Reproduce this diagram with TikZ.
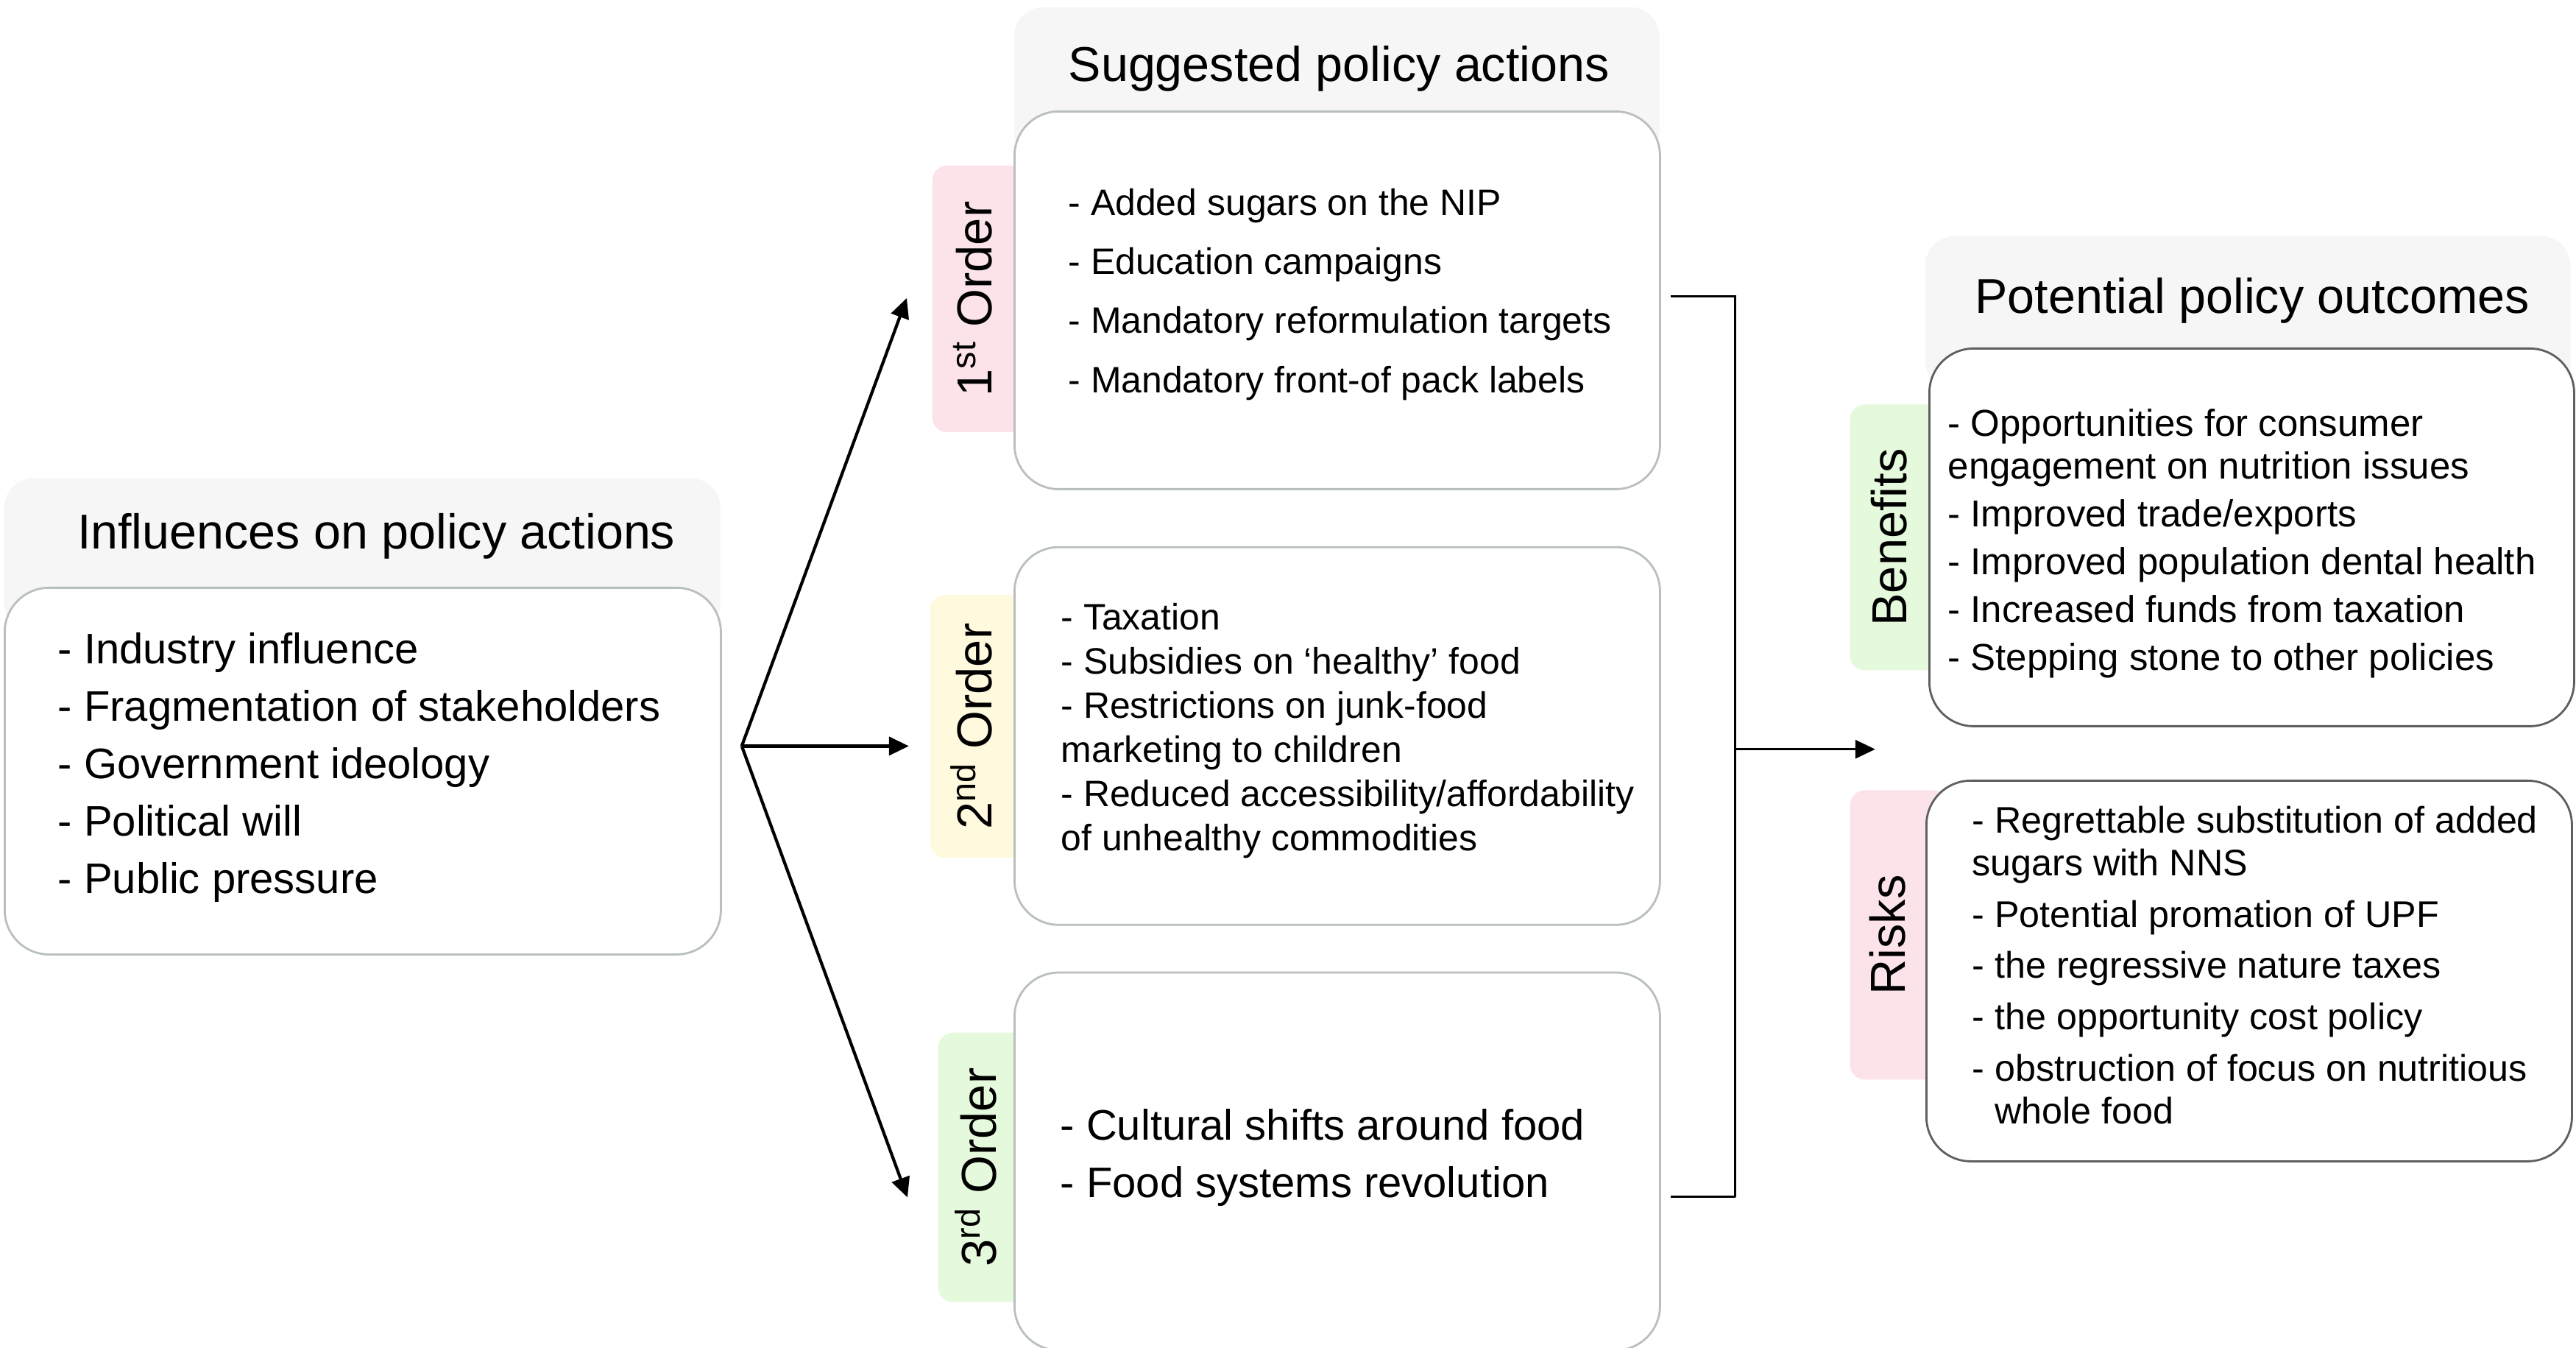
\documentclass[tikz,border=0pt]{standalone}
\usepackage{fontspec}
\setmainfont{Liberation Sans}
\usepackage{tikz}
\usetikzlibrary{positioning,calc,arrows.meta,backgrounds}
\definecolor{HeadGray}{RGB}{246,246,246}
\definecolor{BoxGray}{RGB}{185,191,191}
\definecolor{DarkBoxGray}{RGB}{95,95,95}
\definecolor{TagPink}{RGB}{252,227,233}
\definecolor{TagYellow}{RGB}{255,249,222}
\definecolor{TagGreen}{RGB}{229,249,220}
\tikzset{%
  header/.style={%
    fill=HeadGray, rounded corners=0.4cm, minimum width=8.77cm,
    minimum height=2.1cm, anchor=north west
  },
  headtitle/.style={font=\fontsize{18.9}{22}\selectfont, inner sep=0pt},
  panel/.style={%
    draw=BoxGray, line width=0.8pt, fill=white, rounded corners=0.6cm,
    minimum width=8.77cm, minimum height=5.13cm, anchor=north west
  },
  tagbox/.style={rounded corners=0.2cm, anchor=west, minimum height=3.62cm},
  tagtext/.style={rotate=90, font=\fontsize{19}{22}\selectfont, inner sep=0pt},
  items/.style={anchor=west, align=left, inner sep=0pt},
  arrow/.style={line width=1.2pt, -{Triangle[length=0.27cm,width=0.25cm]}},
  bracket/.style={line width=0.9pt},
}

\begin{document}
\begin{tikzpicture}
    \useasboundingbox (0,0) rectangle (35,-18.31);

        \node (InfluencesHead)[header, minimum width=9.73cm] at (0.05,-6.49) {};
        \node (InfluencesTitle)[headtitle] at ($(InfluencesHead.north)+(0.19,-0.79)$) {Influences on policy actions};
        \node (Influences)[panel, minimum width=9.73cm, minimum height=4.98cm] at (0.05,-7.97) {};
        \node (InfluencesList)[items, font=\fontsize{16.5}{22.2}\selectfont] at ($(Influences.west)+(0.73,0.05)$) {%
            - Industry influence\\
            - Fragmentation of stakeholders\\
            - Government ideology\\
            - Political will\\
            - Public pressure};

        \node (ActionsHead)[header] at (13.77,-0.09) {};
        \node (ActionsTitle)[headtitle] at ($(ActionsHead.north)+(0.03,-0.84)$) {Suggested policy actions};
        \node (Action1)[panel] at (13.77,-1.50) {};
        \node (Action2)[panel, below=0.76cm of Action1] {};
        \node (Action3)[panel, below=0.62cm of Action2] {};

        \node (Action1List)[items, font=\fontsize{14.2}{22.8}\selectfont] at ($(Action1.west)+(0.74,0.08)$) {%
            - Added sugars on the NIP\\
            - Education campaigns\\
            - Mandatory reformulation targets\\
            - Mandatory front-of pack labels};
        \node (Action2List)[items, font=\fontsize{14.2}{17.1}\selectfont] at ($(Action2.west)+(0.64,0.07)$) {%
            - Taxation\\
            - Subsidies on ‘healthy’ food\\
            - Restrictions on junk-food\\
            marketing to children\\
            - Reduced accessibility/affordability\\
            of unhealthy commodities};
        \node (Action3List)[items, font=\fontsize{16.5}{22.2}\selectfont] at ($(Action3.west)+(0.63,0.05)$) {%
            - Cultural shifts around food\\
            - Food systems revolution};

        \node (OutcomesHead)[header] at (26.15,-3.20) {};
        \node (OutcomesTitle)[headtitle] at ($(OutcomesHead.north)+(0.06,-0.88)$) {Potential policy outcomes};
        \node (Benefits)[panel, draw=DarkBoxGray, minimum width=8.76cm] at (26.20,-4.72) {};
        \node (Risks)[panel, draw=DarkBoxGray, minimum height=5.17cm] at (26.16,-10.59) {};

        \node (BenefitsList)[items, font=\fontsize{14.5}{16.5}\selectfont] at ($(Benefits.west)+(0.26,-0.08)$) {%
            - Opportunities for consumer\\
            engagement on nutrition issues\\[2pt]
            - Improved trade/exports\\[2pt]
            - Improved population dental health\\[2pt]
            - Increased funds from taxation\\[2pt]
            - Stepping stone to other policies};
        \node (RisksList)[items, font=\fontsize{14.3}{16.6}\selectfont] at ($(Risks.west)+(0.63,0.08)$) {%
            - Regrettable substitution of added\\
            sugars with NNS\\[3.2pt]
            - Potential promation of UPF\\[3.2pt]
            - the regressive nature taxes\\[3.2pt]
            - the opportunity cost policy\\[3.2pt]
            - obstruction of focus on nutritious\\
            \hphantom{- }whole food};

        \begin{scope}[on background layer]
            \node (Order1)[tagbox, fill=TagPink, minimum width=1.41cm] at ($(Action1.west)+(-1.11,0.02)$) {};
            \node (Order2)[tagbox, fill=TagYellow, minimum width=1.44cm, minimum height=3.57cm] at ($(Action2.west)+(-1.14,0.13)$) {};
            \node (Order3)[tagbox, fill=TagGreen, minimum width=1.33cm, minimum height=3.66cm] at ($(Action3.west)+(-1.03,-0.08)$) {};
            \node (BenefitsTag)[tagbox, fill=TagGreen, minimum width=1.37cm, minimum height=3.61cm] at ($(Benefits.west)+(-1.07,0)$) {};
            \node (RisksTag)[tagbox, fill=TagPink, minimum width=1.33cm, minimum height=3.93cm] at ($(Risks.west)+(-1.03,0.49)$) {};
        \end{scope}

        \node (Order1Label)[tagtext] at ($(Order1.west)!0.5!(Order1.west -| Action1.west)$) {1\textsuperscript{st} Order};
        \node (Order2Label)[tagtext] at ($(Order2.west)!0.5!(Order2.west -| Action2.west)$) {2\textsuperscript{nd} Order};
        \node (Order3Label)[tagtext] at ($(Order3.west)!0.5!(Order3.west -| Action3.west)$) {3\textsuperscript{rd} Order};
        \node (BenefitsLabel)[tagtext] at ($(BenefitsTag.west)!0.5!(BenefitsTag.west -| Benefits.west)$) {Benefits};
        \node (RisksLabel)[tagtext] at ($(RisksTag.west)!0.5!(RisksTag.west -| Risks.west)$) {Risks};

        \coordinate (fork) at ($(Influences.east)+(0.27,0.34)$);
        \path[arrow]
            (fork) edge ($(Order1.west)+(-0.34,0.01)$)
            (fork) edge ($(fork)+(2.27,0)$)
            (fork) edge ($(Order3.west)+(-0.41,-0.41)$);

        \coordinate (merge) at ($(Action2.east)+(1.01,-0.18)$);
        \path[draw, bracket]
            ($(Action1.east)+(0.13,0.05)$) -| ($(Action3.east)+(1.01,-0.48)$)
            ($(Action3.east)+(1.01,-0.48)$) -- ($(Action3.east)+(0.13,-0.48)$);
        \draw[arrow, line width=0.9pt] (merge) -- ($(merge)+(1.9,0)$);
    \end{tikzpicture}
\end{document}
